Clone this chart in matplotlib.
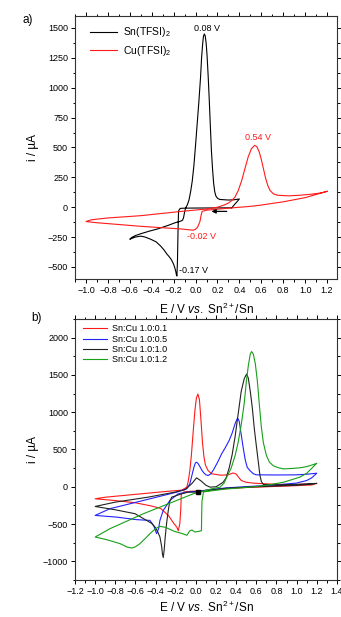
import matplotlib
matplotlib.use('Agg')
import matplotlib.pyplot as plt
from matplotlib.ticker import MultipleLocator

plt.rcParams['font.family'] = ['Liberation Sans', 'DejaVu Sans']
plt.rcParams['mathtext.fontset'] = 'custom'
plt.rcParams['mathtext.rm'] = 'Liberation Sans'
plt.rcParams['mathtext.it'] = 'Liberation Sans:italic'

# panel a) data, E in V, i in uA (read from the picture)
sn_E = [0.33, 0.20, 0.00, -0.10, -0.14, -0.155, -0.16, -0.165, -0.17, -0.175, -0.18, -0.19, -0.20, -0.22, -0.24,
        -0.26, -0.29, -0.32, -0.36, -0.41, -0.46, -0.50, -0.55, -0.60,
        -0.58, -0.55, -0.50, -0.42, -0.35, -0.25, -0.18, -0.14, -0.12, -0.11, -0.10, -0.09, -0.075, -0.06,
        -0.045, -0.03, -0.015, 0.00, 0.015, 0.03, 0.045, 0.055, 0.065, 0.072, 0.08, 0.088, 0.097, 0.105,
        0.115, 0.125, 0.135, 0.145, 0.155, 0.165, 0.175, 0.185, 0.20, 0.22, 0.30, 0.35, 0.40, 0.33]
sn_i = [-5, -6, -7, -8, -10, -30, -200, -450, -576, -565, -540, -505, -478, -440, -415,
        -394, -355, -324, -290, -268, -250, -242, -250, -268,
        -252, -238, -222, -200, -183, -152, -128, -118, -110, -90, -40, -5, 20, 60,
        130, 220, 350, 520, 700, 880, 1080, 1250, 1370, 1430, 1450, 1435, 1370, 1270,
        1100, 900, 680, 470, 320, 200, 130, 95, 75, 65, 60, 62, 69, -5]

cu_E = [1.20, 1.00, 0.80, 0.60, 0.50, 0.30, 0.10, 0.06, 0.05, 0.04, 0.02, 0.00, -0.02, -0.05, -0.12,
        -0.30, -0.50, -0.70, -0.90, -1.00,
        -0.95, -0.80, -0.50, -0.14, 0.10, 0.20, 0.26, 0.30, 0.33, 0.36, 0.39, 0.42, 0.45, 0.48, 0.51,
        0.54, 0.56, 0.58, 0.60, 0.62, 0.64, 0.66, 0.68, 0.71, 0.75, 0.85, 0.95, 1.05, 1.15, 1.20]
cu_i = [133, 80, 45, 18, 7, -8, -25, -35, -70, -120, -165, -185, -192, -190, -183,
        -172, -160, -145, -130, -120,
        -105, -90, -71, -36, -15, 0, 18, 35, 55, 85, 140, 220, 320, 420, 490,
        518, 505, 465, 400, 320, 240, 180, 140, 112, 100, 95, 100, 108, 120, 133]

# panel b) data, Sn:Cu ratios
r01_E = [0.05, -0.05, -0.12, -0.145, -0.15, -0.16, -0.175, -0.19, -0.22, -0.27, -0.35, -0.45, -0.60, -0.80, -1.00,
         -0.90, -0.54, -0.29, -0.14, -0.09, -0.075, -0.06, -0.045, -0.026, -0.01, 0.005, 0.02, 0.035, 0.05,
         0.065, 0.08, 0.095, 0.12, 0.155, 0.25, 0.32, 0.37, 0.40, 0.45, 0.50, 0.58, 0.80, 1.00, 1.20,
         1.15, 1.00, 0.80, 0.50, 0.30, 0.15, 0.05]
r01_i = [-55, -60, -70, -100, -300, -500, -590, -540, -490, -390, -290, -255, -215, -185, -161,
         -140, -94, -62, -45, -5, 80, 218, 420, 753, 1020, 1190, 1243, 1170, 900,
         600, 400, 290, 220, 174, 155, 160, 185, 170, 84, 60, 48, 32, 30, 45,
         25, 15, 5, -10, -25, -40, -55]

r05_E = [0.05, 0.00, -0.09, -0.175, -0.258, -0.324, -0.357, -0.37, -0.39, -0.42, -0.456, -0.588, -0.786, -1.00,
         -0.853, -0.52, -0.19, -0.09, -0.06, -0.04, -0.02, -0.005, 0.007, 0.02, 0.04, 0.06, 0.08, 0.10, 0.122,
         0.15, 0.18, 0.22, 0.255, 0.29, 0.33, 0.36, 0.39, 0.414, 0.43, 0.45, 0.47, 0.49, 0.51, 0.536, 0.57,
         0.60, 0.80, 1.00, 1.10, 1.20,
         1.15, 1.10, 1.00, 0.80, 0.60, 0.30, 0.10, 0.05]
r05_i = [-60, -62, -72, -94, -183, -317, -451, -560, -629, -520, -451, -441, -407, -384,
         -294, -183, -72, -27, 40, 150, 260, 320, 329, 315, 270, 220, 185, 160, 151,
         175, 240, 340, 441, 520, 620, 720, 850, 922, 880, 700, 520, 360, 260, 218, 175,
         160, 158, 160, 168, 182,
         120, 84, 50, 25, 10, -15, -45, -60]

r10_E = [0.03, -0.076, -0.14, -0.24, -0.26, -0.274, -0.29, -0.305, -0.315, -0.324, -0.332, -0.34, -0.357, -0.38,
         -0.406, -0.44, -0.49, -0.605, -0.803, -1.00,
         -0.80, -0.473, -0.208, -0.109, -0.042, 0.007, 0.05, 0.10, 0.14, 0.20, 0.27, 0.30, 0.33, 0.36, 0.39,
         0.42, 0.45, 0.48, 0.503, 0.52, 0.54, 0.56, 0.58, 0.60, 0.62, 0.635, 0.65, 0.67, 0.80, 1.00, 1.20,
         1.10, 1.00, 0.80, 0.50, 0.30, 0.10, 0.03]
r10_i = [-72, -72, -94, -139, -200, -317, -480, -680, -850, -949, -900, -800, -674, -600,
         -540, -490, -451, -361, -308, -264,
         -206, -139, -72, -40, 40, 120, 80, 20, -5, 0, 60, 120, 250, 430, 680,
         980, 1280, 1450, 1511, 1460, 1280, 1060, 780, 550, 330, 160, 70, 30, 25, 32, 45,
         30, 20, 10, -5, -20, -55, -72]

r12_E = [0.12, 0.075, 0.06, 0.055, 0.02, -0.01, -0.04, -0.06, -0.09, -0.13, -0.21, -0.30, -0.355, -0.40,
         -0.456, -0.50, -0.555, -0.60, -0.638, -0.68, -0.754, -0.886, -1.00,
         -0.853, -0.52, -0.19, -0.026, 0.073, 0.15, 0.24, 0.28, 0.31, 0.35, 0.39, 0.42, 0.45, 0.48, 0.50,
         0.52, 0.54, 0.553, 0.57, 0.59, 0.61, 0.63, 0.65, 0.67, 0.70, 0.73, 0.77, 0.82, 0.87, 0.95, 1.03,
         1.10, 1.16, 1.20,
         1.10, 1.03, 0.87, 0.70, 0.536, 0.30, 0.12]
r12_i = [-60, -70, -200, -590, -600, -607, -580, -590, -651, -630, -600, -545, -531, -560,
         -629, -690, -762, -805, -821, -810, -762, -709, -674,
         -562, -361, -183, -94, -59, -30, -5, 50, 140, 250, 420, 600, 830, 1120, 1400,
         1620, 1780, 1813, 1780, 1650, 1420, 1100, 800, 590, 420, 330, 280, 255, 240, 245, 254,
         270, 295, 315,
         180, 128, 61, 20, -5, -30, -60]

labels_b = ['Sn:Cu 1.0:0.1', 'Sn:Cu 1.0:0.5', 'Sn:Cu 1.0:1.0', 'Sn:Cu 1.0:1.2']
colors_b = ['#ff1a1a', '#2222ff', '#222222', '#16a016']

xlabel = 'E / V $\\it{vs.}$ Sn$^{2+}$/Sn'

fig = plt.figure(figsize=(3.41, 6.17), dpi=100)
ax1 = fig.add_axes([0.22, 0.548, 0.768, 0.426])
ax2 = fig.add_axes([0.22, 0.060, 0.768, 0.423])

def style(ax):  # origin-like ticks on all four sides
    ax.tick_params(which='both', direction='out', top=True, right=True, labelsize=6.5, width=0.7, pad=2)
    ax.tick_params(which='major', length=3)
    ax.tick_params(which='minor', length=1.8)
    for s in ax.spines.values():
        s.set_linewidth(0.8)
        s.set_color('#333333')

# --- a)
ax1.plot(sn_E, sn_i, color='black', lw=0.8, label='Sn(TFSI)$_2$')
ax1.plot(cu_E, cu_i, color='#ff1a1a', lw=0.8, label='Cu(TFSI)$_2$')
ax1.set_xlim(-1.1, 1.29)
ax1.set_ylim(-600, 1600)
ax1.xaxis.set_minor_locator(MultipleLocator(0.1))
ax1.yaxis.set_major_locator(MultipleLocator(250))
ax1.yaxis.set_minor_locator(MultipleLocator(125))
ax1.set_xticks([-1.0, -0.8, -0.6, -0.4, -0.2, 0.0, 0.2, 0.4, 0.6, 0.8, 1.0, 1.2])
style(ax1)
ax1.set_xlabel(xlabel, fontsize=8.5, labelpad=5)
ax1.set_ylabel('i / \u00b5A', fontsize=8.5, labelpad=6)
ax1.legend(loc='upper left', frameon=False, fontsize=7.5, handlelength=2.6, handletextpad=0.6,
           borderaxespad=0.5, labelspacing=0.4, bbox_to_anchor=(0.02, 1.0))
ax1.text(0.10, 1492, '0.08 V', fontsize=6.5, ha='center', va='center', color='black')
ax1.text(0.567, 582, '0.54 V', fontsize=6.5, ha='center', va='center', color='#ff1a1a')
ax1.text(0.053, -246, '-0.02 V', fontsize=6.5, ha='center', va='center', color='#ff1a1a')
ax1.text(-0.02, -529, '-0.17 V', fontsize=6.5, ha='center', va='center', color='black')
ax1.annotate('', xy=(0.12, -35), xytext=(0.31, -35),
             arrowprops=dict(arrowstyle='-|>', color='black', lw=0.9, mutation_scale=6))
fig.text(0.08, 0.968, 'a)', fontsize=8.5, ha='center', va='center')

# --- b)
for E, i, c, lab in zip([r01_E, r05_E, r10_E, r12_E], [r01_i, r05_i, r10_i, r12_i], colors_b, labels_b):
    ax2.plot(E, i, color=c, lw=0.8, label=lab)
ax2.plot([0.023], [-72], marker='s', ms=2.2, color='black')
ax2.set_xlim(-1.2, 1.4)
ax2.set_ylim(-1250, 2250)
ax2.xaxis.set_minor_locator(MultipleLocator(0.1))
ax2.yaxis.set_major_locator(MultipleLocator(500))
ax2.yaxis.set_minor_locator(MultipleLocator(250))
style(ax2)
ax2.set_xticks([-1.2, -1.0, -0.8, -0.6, -0.4, -0.2, 0.0, 0.2, 0.4, 0.6, 0.8, 1.0, 1.2, 1.4])
ax2.set_xlabel(xlabel, fontsize=8.5, labelpad=3)
ax2.set_ylabel('i / \u00b5A', fontsize=8.5, labelpad=3)
ax2.legend(loc='upper left', frameon=False, fontsize=6.5, handlelength=2.6, handletextpad=0.6,
           borderaxespad=0.2, labelspacing=0.15, bbox_to_anchor=(0.01, 1.0))
fig.text(0.108, 0.485, 'b)', fontsize=8.5, ha='center', va='center')

fig.savefig('out.png', dpi=100)
